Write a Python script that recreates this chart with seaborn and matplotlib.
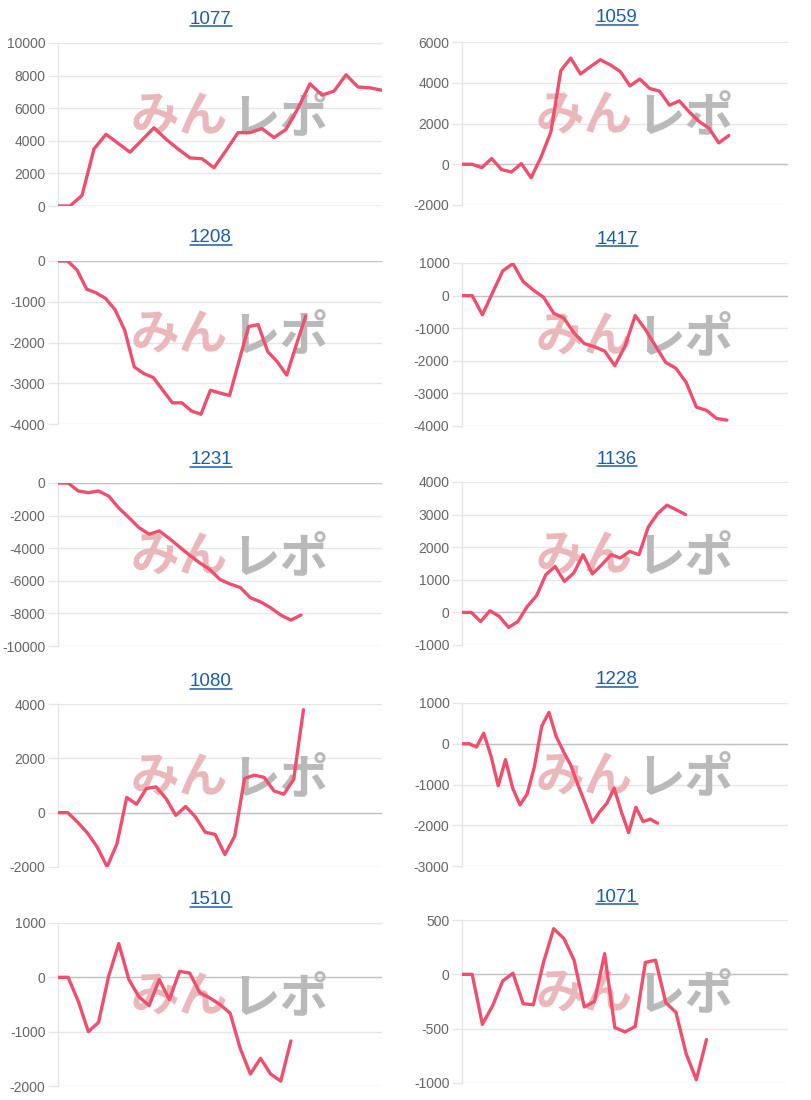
import matplotlib.pyplot as plt
from matplotlib.lines import Line2D
import pandas as pd
import seaborn as sns

sns.set_theme(style='white')
plt.rcParams['font.family'] = ['Liberation Sans', 'Noto Sans CJK JP', 'DejaVu Sans']

# Machine numbers, read left to right, top to bottom
titles = ['1077', '1059', '1208', '1417', '1231', '1136', '1080', '1228', '1510', '1071']

# Number of x slots each chart has (the lines stop before the end on most)
n_slots = [28, 34, 35, 33, 33, 36, 34, 46, 33, 33]

# Running totals
v1077 = [0, 0, 650, 3500, 4400, 3850, 3300, 4050, 4800, 4100, 3500, 2950, 2900,
         2350, 3400, 4500, 4500, 4750, 4200, 4700, 6000, 7500, 6800, 7050, 8050,
         7300, 7250, 7100]
v1059 = [0, 0, -165, 280, -260, -380, 30, -660, 350, 1590, 4590, 5210, 4430,
         4790, 5130, 4880, 4560, 3850, 4180, 3720, 3590, 2900, 3110, 2570, 2100,
         1770, 1050, 1410]
v1208 = [0, 0, -220, -690, -780, -920, -1200, -1700, -2600, -2760, -2860, -3170,
         -3480, -3480, -3680, -3760, -3170, -3240, -3300, -2450, -1610, -1560,
         -2220, -2470, -2800, -2060, -1350]
v1417 = [0, 0, -590, 90, 760, 980, 430, 170, -50, -540, -690, -1150, -1470,
         -1570, -1700, -2150, -1550, -610, -1040, -1550, -2050, -2230, -2660,
         -3420, -3520, -3770, -3820]
v1231 = [0, 0, -490, -590, -490, -800, -1530, -2120, -2740, -3140, -2940, -3410,
         -3920, -4430, -4900, -5310, -5920, -6200, -6410, -7040, -7290, -7650,
         -8100, -8410, -8100]
v1136 = [0, 0, -280, 50, -120, -460, -280, 180, 510, 1160, 1410, 950, 1210, 1770,
         1180, 1460, 1770, 1670, 1870, 1770, 2620, 3030, 3290, 3150, 3000]
v1080 = [0, 0, -350, -750, -1270, -1990, -1150, 560, 310, 890, 950, 520, -100,
         230, -160, -720, -800, -1540, -860, 1260, 1380, 1300, 800, 680, 1220, 3790]
v1228 = [0, 0, -80, 260, -300, -1030, -390, -1090, -1500, -1230, -560, 430, 770,
         180, -190, -520, -1010, -1460, -1930, -1670, -1460, -1090, -1670, -2180,
         -1560, -1910, -1850, -1950]
v1510 = [0, 0, -440, -1000, -830, 20, 620, -40, -360, -520, -40, -410, 110, 80,
         -280, -380, -500, -660, -1310, -1780, -1490, -1780, -1910, -1170]
v1071 = [0, 0, -460, -290, -60, 10, -270, -280, 110, 420, 330, 130, -300, -250,
         190, -490, -530, -480, 110, 130, -260, -350, -730, -970, -600]

series = [v1077, v1059, v1208, v1417, v1231, v1136, v1080, v1228, v1510, v1071]

# y axis (min, max, step) for each chart
y_axes = [(0, 10000, 2000), (-2000, 6000, 2000), (-4000, 0, 1000), (-4000, 1000, 1000),
          (-10000, 0, 2000), (-1000, 4000, 1000), (-2000, 4000, 2000),
          (-3000, 1000, 1000), (-2000, 1000, 1000), (-1000, 500, 500)]

W, H = 812, 1100
fig = plt.figure(figsize=(W / 100, H / 100), dpi=100, facecolor='white')

line_col = '#ef4f6d'
grid_col = '#e6e6e6'
zero_col = '#c2c2c2'

# pixel layout of the panels
col_left = [58, 462]
col_width = [324, 326]
row_top = [[43, 261, 483, 704, 923], [42, 263, 482, 703, 920]]
plot_h = 163
title_x = [211, 617]
title_y = [[19, 238, 460, 682, 900], [18, 239, 459, 680, 897]]

title_artists = []
for i, (name, vals, n, (lo, hi, step)) in enumerate(zip(titles, series, n_slots, y_axes)):
    row, col = divmod(i, 2)
    top = row_top[col][row]
    ax = fig.add_axes([col_left[col] / W, 1 - (top + plot_h) / H,
                       col_width[col] / W, plot_h / H])
    df = pd.DataFrame({'x': range(len(vals)), 'value': vals})

    # watermark
    ax.text(0.225, 0.545, 'みん', transform=ax.transAxes, ha='left', va='center',
            fontsize=35, fontweight='bold', color='#eab7ba',
            family='Noto Sans CJK JP', zorder=1)
    ax.text(0.535, 0.545, 'レポ', transform=ax.transAxes, ha='left', va='center',
            fontsize=35, fontweight='bold', color='#b9b9b9',
            family='Noto Sans CJK JP', zorder=1)

    sns.lineplot(data=df, x='x', y='value', ax=ax, color=line_col, lw=2.4, zorder=3)

    ticks = list(range(lo, hi + 1, step))
    ax.set_yticks(ticks)
    ax.set_yticklabels([str(t) for t in ticks])
    ax.set_ylim(lo, hi)
    ax.set_xlim(0, n - 1)
    ax.set_xticks([])
    ax.set_xlabel('')
    ax.set_ylabel('')

    ax.grid(axis='y', color=grid_col, lw=1)
    ax.set_axisbelow(True)
    if lo <= 0 <= hi:
        ax.axhline(0, color=zero_col, lw=1, zorder=0.6)
    for side in ['top', 'right', 'bottom']:
        ax.spines[side].set_visible(False)
    ax.spines['left'].set_color(grid_col)
    ax.spines['left'].set_linewidth(1)
    ax.tick_params(axis='y', length=7, width=1, color=grid_col,
                   labelcolor='#666666', labelsize=10, pad=2, left=True)

    t = fig.text(title_x[col] / W, 1 - title_y[col][row] / H, name,
                 ha='center', va='center', color='#1b5ea6', fontsize=13.5)
    title_artists.append(t)

# underline the titles like links
fig.canvas.draw()
renderer = fig.canvas.get_renderer()
inv = fig.transFigure.inverted()
for t in title_artists:
    bb = t.get_window_extent(renderer)
    (x0, y0), (x1, _) = inv.transform([(bb.x0, bb.y0 + 1.5), (bb.x1, bb.y0 + 1.5)])
    fig.add_artist(Line2D([x0, x1], [y0, y0], color='#1b5ea6', lw=1.1))

fig.savefig('out.png', dpi=100, facecolor='white')
